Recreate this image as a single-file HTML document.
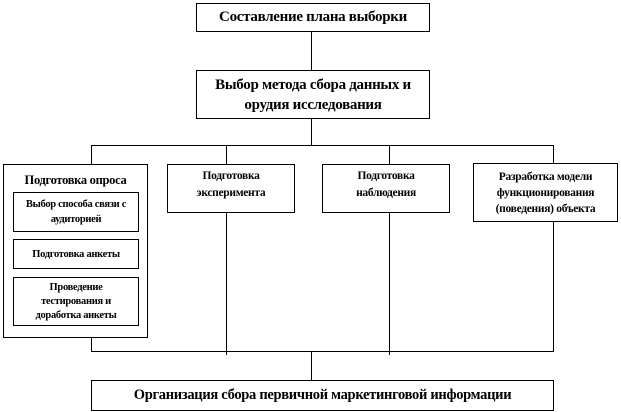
<!DOCTYPE html>
<html><head><meta charset="utf-8"><style>
body{margin:0;background:#fff;width:621px;height:412px;position:relative;overflow:hidden;font-family:"Liberation Serif",serif;font-weight:bold;color:#000}
.b{position:absolute;border:1px solid #000;box-sizing:border-box;display:flex;align-items:center;justify-content:center;text-align:center;background:#fff;letter-spacing:-0.3px}
.l{position:absolute;background:#000}
</style></head><body>
<div class="l" style="left:311px;top:31px;width:1px;height:39px"></div>
<div class="l" style="left:311px;top:118px;width:1px;height:28px"></div>
<div class="l" style="left:91px;top:145px;width:463px;height:1px"></div>
<div class="l" style="left:91px;top:145px;width:1px;height:20px"></div>
<div class="l" style="left:226px;top:145px;width:1px;height:20px"></div>
<div class="l" style="left:389px;top:145px;width:1px;height:20px"></div>
<div class="l" style="left:553px;top:145px;width:1px;height:20px"></div>
<div class="l" style="left:91px;top:337px;width:1px;height:15px"></div>
<div class="l" style="left:226px;top:212px;width:1px;height:143px"></div>
<div class="l" style="left:389px;top:212px;width:1px;height:143px"></div>
<div class="l" style="left:553px;top:221px;width:1px;height:131px"></div>
<div class="l" style="left:91px;top:351px;width:463px;height:1px"></div>
<div class="l" style="left:311px;top:351px;width:1px;height:29px"></div>

<div class="b" style="left:196px;top:3px;width:234px;height:29px;font-size:15px">Составление плана выборки</div>
<div class="b" style="left:196px;top:70px;width:234px;height:49px;font-size:15px;line-height:20px;padding:0 10px">Выбор метода сбора данных и орудия исследования</div>

<div class="b" style="left:3px;top:164px;width:145px;height:174px;align-items:flex-start;font-size:12.5px;padding-top:8px">Подготовка опроса</div>
<div class="b" style="left:13px;top:192px;width:126px;height:40px;font-size:10.5px;line-height:15px;padding:0 8px">Выбор способа связи с аудиторией</div>
<div class="b" style="left:13px;top:239px;width:126px;height:30px;font-size:10.5px">Подготовка анкеты</div>
<div class="b" style="left:13px;top:277px;width:126px;height:49px;font-size:10.5px;line-height:14px;padding:0 12px">Проведение тестирования и доработка анкеты</div>

<div class="b" style="left:167px;top:164px;width:128px;height:49px;font-size:11.5px;line-height:17px;align-items:flex-start;padding:3px 10px 0">Подготовка эксперимента</div>
<div class="b" style="left:322px;top:164px;width:128px;height:49px;font-size:11.5px;line-height:17px;align-items:flex-start;padding:3px 10px 0">Подготовка наблюдения</div>
<div class="b" style="left:473px;top:163px;width:145px;height:59px;font-size:11.5px;line-height:16px">Разработка модели функционирования (поведения) объекта</div>

<div class="b" style="left:91px;top:380px;width:463px;height:31px;font-size:14.5px">Организация сбора первичной маркетинговой информации</div>
</body></html>
